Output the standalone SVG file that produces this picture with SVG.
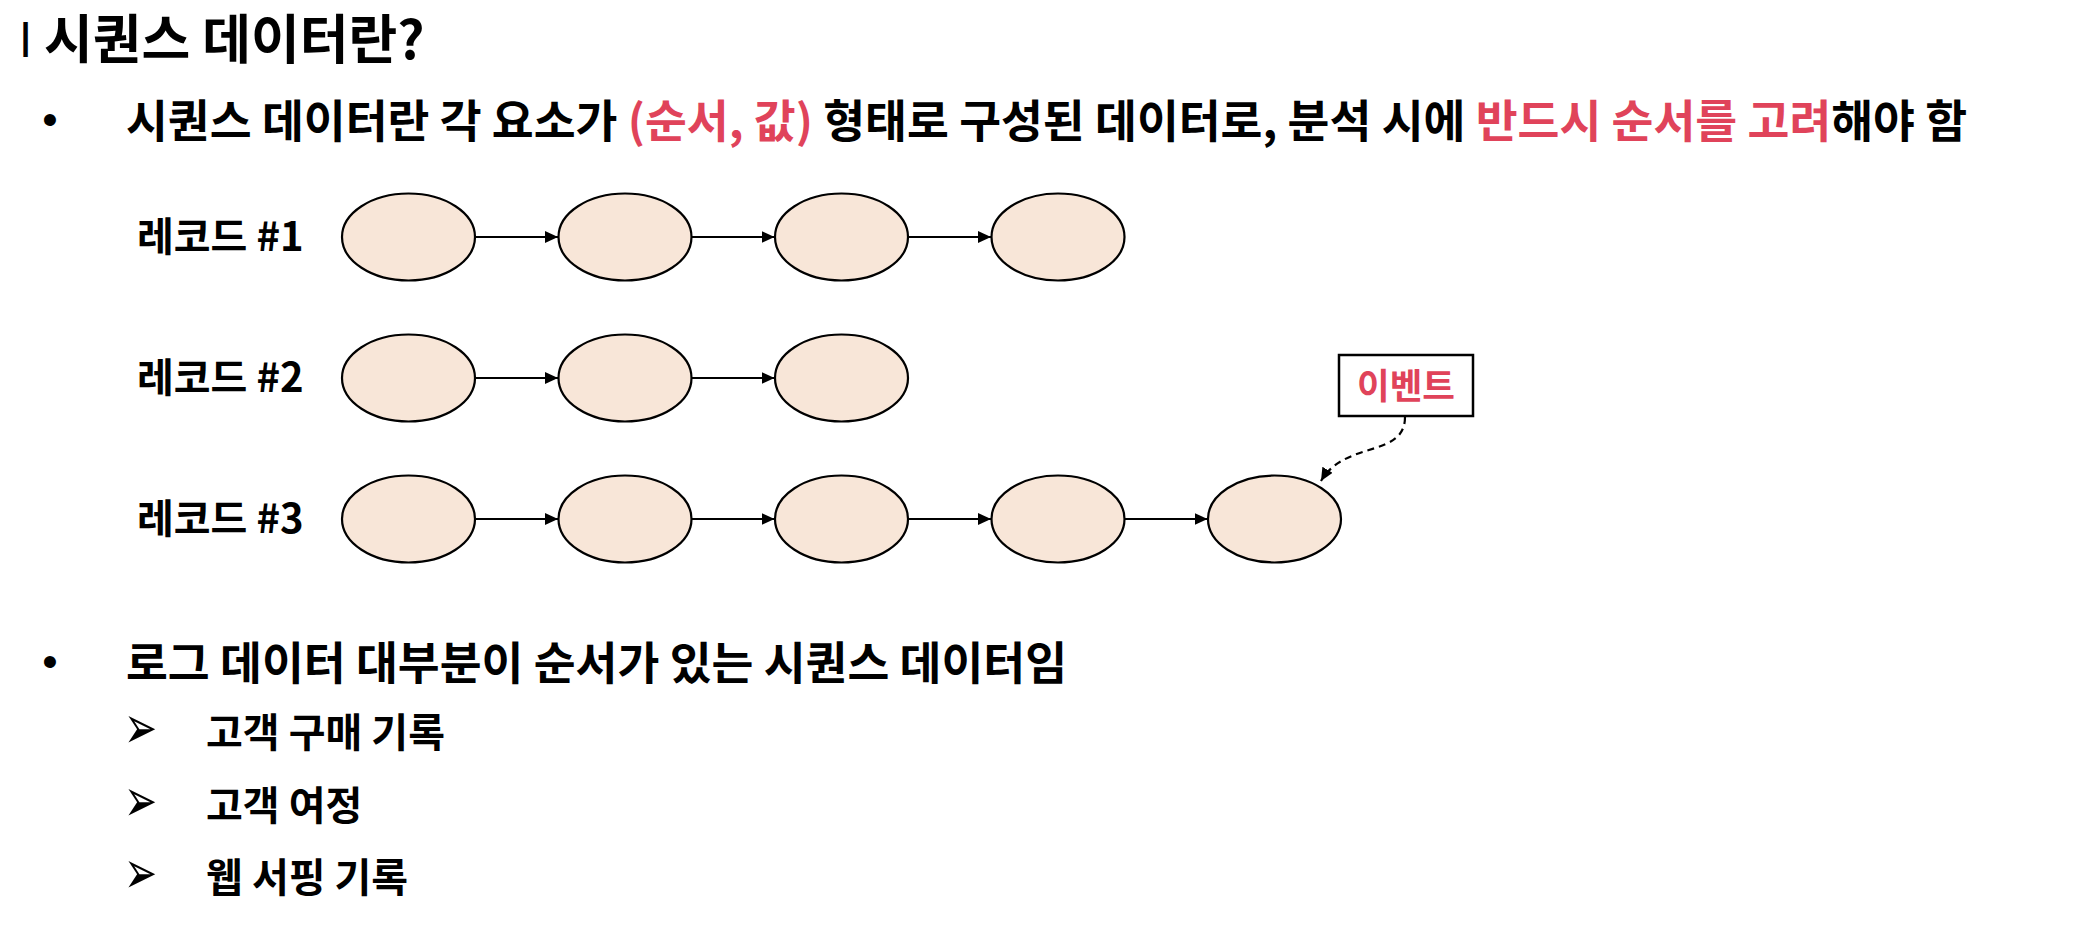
<svg xmlns="http://www.w3.org/2000/svg" width="2084" height="934" viewBox="0 0 2084 934">
<style>
text{font-family:"Noto Sans CJK KR","Noto Sans",sans-serif;fill:#000}
.b{font-weight:700}
.red{fill:#E0435A}
.node{fill:#F8E6D8;stroke:#000;stroke-width:2.2}
.conn{stroke:#000;stroke-width:2;fill:none}
.dash{stroke:#000;stroke-width:2.2;fill:none;stroke-dasharray:7 5}
.lbl{font-size:40px;font-weight:700}
.sub{font-size:40px;font-weight:700}
.arr{font-family:"DejaVu Sans",sans-serif;font-size:60px}
.bul{font-family:"Liberation Sans",sans-serif;font-size:44px}
</style>
<defs>
<marker id="ah" markerUnits="userSpaceOnUse" markerWidth="14" markerHeight="12" refX="13" refY="6" orient="auto">
<path d="M0,0 L13,6 L0,12 z" fill="#000"/>
</marker>
</defs>
<g id="title">
<text x="18.5" y="57" font-family="Liberation Sans" font-size="48">I</text>
<text x="44" y="59" class="b" font-size="53">시퀀스 데이터란?</text>
</g>
<g id="line1">
<text x="50" y="135" class="bul" text-anchor="middle">•</text>
<text x="126" y="138" class="b" font-size="45.5">시퀀스 데이터란 각 요소가 <tspan class="red">(순서, 값)</tspan> 형태로 구성된 데이터로, 분석 시에 <tspan class="red">반드시 순서를 고려</tspan>해야 함</text>
</g>
<g id="labels">
<text x="137" y="251" class="lbl">레코드 #1</text>
<text x="137" y="392" class="lbl">레코드 #2</text>
<text x="137" y="533" class="lbl">레코드 #3</text>
</g>
<g id="connectors">
<line class="conn" x1="475" y1="237" x2="558" y2="237" marker-end="url(#ah)"/>
<line class="conn" x1="691.5" y1="237" x2="774.5" y2="237" marker-end="url(#ah)"/>
<line class="conn" x1="908" y1="237" x2="991" y2="237" marker-end="url(#ah)"/>
<line class="conn" x1="475" y1="378" x2="558" y2="378" marker-end="url(#ah)"/>
<line class="conn" x1="691.5" y1="378" x2="774.5" y2="378" marker-end="url(#ah)"/>
<line class="conn" x1="475" y1="519" x2="558" y2="519" marker-end="url(#ah)"/>
<line class="conn" x1="691.5" y1="519" x2="774.5" y2="519" marker-end="url(#ah)"/>
<line class="conn" x1="908" y1="519" x2="991" y2="519" marker-end="url(#ah)"/>
<line class="conn" x1="1124.5" y1="519" x2="1207.5" y2="519" marker-end="url(#ah)"/>
<path class="dash" d="M1405,417 C1405,458 1345,440 1321,481" marker-end="url(#ah)"/>
</g>
<g id="record1">
<ellipse class="node" cx="408.5" cy="237" rx="66.5" ry="43.5"/>
<ellipse class="node" cx="625" cy="237" rx="66.5" ry="43.5"/>
<ellipse class="node" cx="841.5" cy="237" rx="66.5" ry="43.5"/>
<ellipse class="node" cx="1058" cy="237" rx="66.5" ry="43.5"/>
</g>
<g id="record2">
<ellipse class="node" cx="408.5" cy="378" rx="66.5" ry="43.5"/>
<ellipse class="node" cx="625" cy="378" rx="66.5" ry="43.5"/>
<ellipse class="node" cx="841.5" cy="378" rx="66.5" ry="43.5"/>
</g>
<g id="record3">
<ellipse class="node" cx="408.5" cy="519" rx="66.5" ry="43.5"/>
<ellipse class="node" cx="625" cy="519" rx="66.5" ry="43.5"/>
<ellipse class="node" cx="841.5" cy="519" rx="66.5" ry="43.5"/>
<ellipse class="node" cx="1058" cy="519" rx="66.5" ry="43.5"/>
<ellipse class="node" cx="1274.5" cy="519" rx="66.5" ry="43.5"/>
</g>
<g id="event">
<rect x="1339" y="355" width="134" height="61" fill="#fff" stroke="#000" stroke-width="2.5"/>
<text x="1406" y="399" class="b red" font-size="35.5" text-anchor="middle">이벤트</text>
</g>
<g id="line2">
<text x="50" y="677" class="bul" text-anchor="middle">•</text>
<text x="126" y="680" class="b" font-size="45.5">로그 데이터 대부분이 순서가 있는 시퀀스 데이터임</text>
</g>
<g id="subs">
<text class="arr" transform="translate(124,748) scale(0.66,1)">➢</text>
<text x="206" y="747" class="sub">고객 구매 기록</text>
<text class="arr" transform="translate(124,821) scale(0.66,1)">➢</text>
<text x="206" y="820" class="sub">고객 여정</text>
<text class="arr" transform="translate(124,893) scale(0.66,1)">➢</text>
<text x="206" y="892" class="sub">웹 서핑 기록</text>
</g>
</svg>
